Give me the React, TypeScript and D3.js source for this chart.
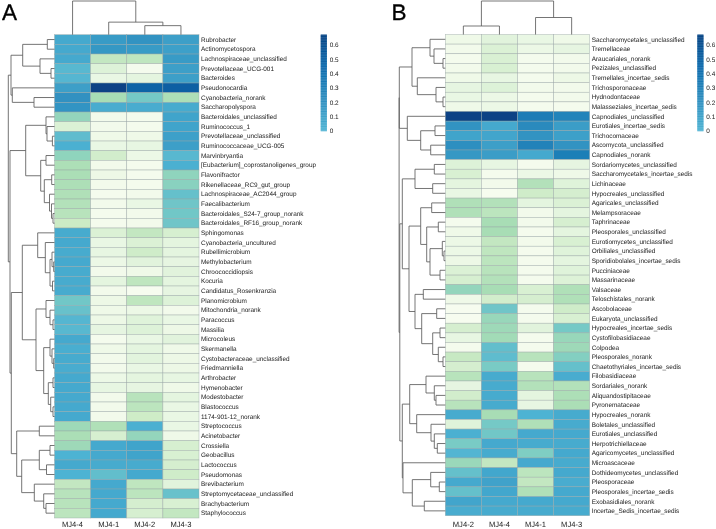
import React from "react";
import * as d3 from "d3";

const W = 716, H = 529;

// Panel A
const colsA = ["MJ4-4", "MJ4-1", "MJ4-2", "MJ4-3"];
const rowsA = ["Rubrobacter","Actinomycetospora","Lachnospiraceae_unclassified","Prevotellaceae_UCG-001","Bacteroides","Pseudonocardia","Cyanobacteria_norank","Saccharopolyspora","Bacteroidales_unclassified","Ruminococcus_1","Prevotellaceae_unclassified","Ruminococcaceae_UCG-005","Marvinbryantia","[Eubacterium]_coprostanoligenes_group","Flavonifractor","Rikenellaceae_RC9_gut_group","Lachnospiraceae_AC2044_group","Faecalibacterium","Bacteroidales_S24-7_group_norank","Bacteroidales_RF16_group_norank","Sphingomonas","Cyanobacteria_uncultured","Rubellimicrobium","Methylobacterium","Chroococcidiopsis","Kocuria","Candidatus_Rosenkranzia","Planomicrobium","Mitochondria_norank","Paracoccus","Massilia","Microcoleus","Skermanella","Cystobacteraceae_unclassified","Friedmanniella","Arthrobacter","Hymenobacter","Modestobacter","Blastococcus","1174-901-12_norank","Streptococcus","Acinetobacter","Crossiella","Geobacillus","Lactococcus","Pseudomonas","Brevibacterium","Streptomycetaceae_unclassified","Brachybacterium","Staphylococcus"];
const valuesA = [
[.06,.14,.19,.12],[.06,.16,.14,.11],[.06,-.62,-.6,.14],[-.05,-.88,-1.1,.12],[-.03,-1,-.95,.12],
[.12,.66,.48,.5],[.2,-.45,-.2,-.48],[.18,.04,.04,.05],[-.35,-1.08,-1.1,.09],[-.85,-1.08,-1.1,.09],
[-.08,-1.05,-1.05,.11],[.02,-1,-.98,.12],[-.33,-.75,-1.02,-.05],[-.48,-1.08,-1.1,.02],[-.47,-1.03,-1.1,-.33],
[-.48,-1.08,-1.1,-.3],[-.5,-1.1,-1.08,-.12],[-.52,-1.08,-1,-.17],[-.55,-1.1,-1.08,-.18],[-.68,-1.1,-1.08,-.17],
[.05,-.85,-.62,-.8],[.06,-1,-.85,-.95],[.05,-.98,-.72,-.95],[.06,-1.02,-.92,-.97],[.05,-1.08,-1.05,-.92],
[.05,-.95,-.6,-.95],[.05,-1.08,-1.12,-.97],[-.18,-1.03,-.6,-.88],[-.13,-1.05,-1.02,-1.08],[-.03,-1.03,-.9,-1],
[-.05,-.97,-.88,-1.03],[.06,-1.1,-1,-.92],[.03,-1.05,-.95,-1.05],[.05,-1.08,-.93,-1.03],[.04,-1.08,-1,-1.03],
[.06,-1.02,-.95,-.98],[.06,-.98,-.97,-1.05],[.06,-1.08,-.55,-.95],[.06,-1.08,-.58,-1],[.06,-1.08,-.7,-1],
[-.4,-.5,.02,-1],[-.47,-.8,-.35,-1.05],[-.4,.06,.09,-.8],[0,.06,.09,-.82],[.06,.05,.05,-.78],
[0,-.1,.06,-.72],[-.62,.06,-.6,-.92],[-.55,.06,-.58,-.13],[-.55,.06,-.78,-.82],[-.58,.06,-.8,-.62],
];

// Panel B
const colsB = ["MJ4-2", "MJ4-4", "MJ4-1", "MJ4-3"];
const rowsB = ["Saccharomycetales_unclassified","Tremellaceae","Araucariales_norank","Pezizales_unclassified","Tremellales_incertae_sedis","Trichosporonaceae","Hydnodontaceae","Malasseziales_incertae_sedis","Capnodiales_unclassified","Eurotiales_incertae_sedis","Trichocomaceae","Ascomycota_unclassified","Capnodiales_norank","Sordariomycetes_unclassified","Saccharomycetales_incertae_sedis","Lichinaceae","Hypocreales_unclassified","Agaricales_unclassified","Melampsoraceae","Taphrinaceae","Pleosporales_unclassified","Eurotiomycetes_unclassified","Orbiliales_unclassified","Sporidiobolales_incertae_sedis","Pucciniaceae","Massarinaceae","Valsaceae","Teloschistales_norank","Ascobolaceae","Eukaryota_unclassified","Hypocreales_incertae_sedis","Cystofilobasidiaceae","Colpodea","Pleosporales_norank","Chaetothyriales_incertae_sedis","Filobasidiaceae","Sordariales_norank","Aliquandostipitaceae","Pyronemataceae","Hypocreales_norank","Boletales_unclassified","Eurotiales_unclassified","Herpotrichiellaceae","Agaricomycetes_unclassified","Microascaceae","Dothideomycetes_unclassified","Pleosporaceae","Pleosporales_incertae_sedis","Exobasidiales_norank","Incertae_Sedis_incertae_sedis"];
const valuesB = [
[-1.05,-.92,-1,-1.05],[-1.08,-.85,-1.02,-.97],[-1.1,-.83,-1.1,-1.08],[-1.08,-.82,-1.1,-1.08],[-1.05,-.98,-1.1,-1.03],
[-.97,-.88,-1.08,-1.08],[-1,-1.02,-1.1,-1.08],[-1.05,-1.02,-1.1,-1.1],[.66,.66,.33,.28],[.19,.06,.24,.13],
[.09,.08,.19,.11],[.21,.12,.29,.19],[.16,.13,.06,.31],[-.88,-.98,-1.1,-.97],[-.82,-1.1,-1.02,-1.05],
[-.95,-1.08,-.52,-.9],[-1,-1.12,-.72,-.78],[-.5,-.52,-.95,-.85],[-.5,-.58,-1.08,-.95],[-1.1,-.45,-1.08,-.8],
[-1.05,-.45,-1.1,-.95],[-1.02,-.62,-1.08,-.82],[-1.02,-.6,-1.1,-.9],[-1.03,-.58,-1.1,-.95],[-.85,-.55,-1.1,-.9],
[-.8,-.52,-1.1,-.87],[-.35,-.45,-.82,-.5],[-1.05,-.75,-.78,-.5],[-1.12,-.17,-1.1,-.72],[-1.12,-.37,-1.1,-.82],
[-.78,-.4,-.92,-.2],[-.98,-.42,-1.1,-.37],[-1.1,-.1,-1.1,-.4],[-.65,-.08,-.55,-.27],[-.78,-.22,-1.1,-.12],
[-.55,.05,-.55,.04],[-.97,.05,-.52,-.52],[-.75,.05,-.95,-.48],[-.55,.05,-.98,-.47],[.05,-.45,0,.05],
[-.9,-.2,-.5,.05],[.02,-.18,.06,.06],[-.22,.06,.05,.05],[-.02,.05,-.25,.06],[-.38,-.62,.06,.05],
[-.12,.07,-.58,.06],[.06,.1,-.62,.04],[-.12,.07,-.5,.06],[.08,.06,.06,.06],[.04,.05,.05,.05],
];

// Dendrograms: a node is [merge height, left, right], a leaf is its row or column index.
type Tree = number | [number, Tree, Tree];
const rowTreeA: Tree = [46.2,
  [43.5,
    [31.8, [7.2,0,1], [14.5,2,[3.5,3,4]]],
    [42.2, 5, [20.5,6,7]]],
  [44.5,
    [28.8,
      [8.5, 8, [7.5, 9, [2.1,10,11]]],
      [13.8, [8.5,12,13], [10.2, [2.8,14,15], [5,16,[3,17,[1.5,18,19]]]]]],
    [43.2,
      [32.2,
        [16.8, 20, [9.2, 21, [4.5, [2.5,22,[.8,23,24]], [2,25,26]]]],
        [18.5,
          [8.5, 27, [4.5, 28, [1.5,29,30]]],
          [10.8,
            [4.5, 31, [2.5, 32, [.8,33,34]]],
            [6.2, [1.5,35,36], [3.8, 37, [1.5,38,39]]]]]],
      [37.8,
        [15.2,40,41],
        [32.8,
          [15.2, [4.5,42,43], [8,44,45]],
          [20.2, 46, [10.8, 47, [8.5,48,49]]]]]]]];
const rowTreeB: Tree = [46.2,
  [46,
    [33.3,
      [15.3, 0, [11.3, 1, [2.3,2,3]]],
      [28, 4, [9.3, 5, [2.3,6,7]]]],
    [38, 8, [24.6, [10.3,9,10], [14.6,11,12]]]],
  [45.5,
    [43,
      [30.3, [11,13,14], [12.6,15,16]],
      [36.3,
        [24.6,
          [13.6,17,18],
          [18.6, [7,19,20], [15.3, [3,21,[1.3,22,23]], [5.3,24,25]]]],
        [30.3,
          [22,26,27],
          [23.6, [8.6,28,29], [12.6, [5.3,30,31], [7,32,[2.3,33,34]]]]]]],
    [43,
      [35.6,
        [19.3, 35, [11, 36, [9.3,37,38]]],
        [28.6, 39, [14.3, 40, [11, 41, [8,42,43]]]]],
      [42.3,
        44,
        [33, [14.6, 45, [6,46,47]], [21,48,49]]]]]];
const colTreeA: Tree = [33.5, 0, [12.5, 1, [9, 2, 3]]];
const colTreeB: Tree = [33.5, [8.5, 0, 1], [17, 2, 3]];

const legendTicks = [0, 0.1, 0.2, 0.3, 0.4, 0.5, 0.6];
const legendMax = 0.675;
const colorStops = [-1.13, -0.91, -0.68, -0.45, -0.23, 0, 0.23, 0.45, 0.68];
const color = d3.scaleLinear<string>().domain(colorStops).range(d3.schemeGnBu[9] as string[]).clamp(true);

const FONT = "'Liberation Sans', Arial, sans-serif";
const LINE = "#5c5c5c";

function treePath(tree: Tree, pos: (i: number) => number, dist: d3.ScaleLinear<number, number>, horizontal: boolean) {
  const p = d3.path();
  const seg = (a: number, d1: number, b: number, d2: number) => {
    if (horizontal) { p.moveTo(d1, a); p.lineTo(d2, b); }
    else { p.moveTo(a, d1); p.lineTo(b, d2); }
  };
  const walk = (t: Tree): [number, number] => {
    if (typeof t === "number") return [pos(t), 0];
    const [h, l, r] = t;
    const [ca, ha] = walk(l);
    const [cb, hb] = walk(r);
    seg(ca, dist(ha), ca, dist(h));
    seg(cb, dist(hb), cb, dist(h));
    seg(ca, dist(h), cb, dist(h));
    return [(ca + cb) / 2, h];
  };
  walk(tree);
  return p.toString();
}

function Panel(props: {
  letter: string; letterX: number; cols: string[]; rows: string[]; values: number[][];
  rowTree: Tree; colTree: Tree; x0: number; x1: number; y0: number; y1: number;
  treeX: number; legendX: number;
}) {
  const { letter, letterX, cols, rows, values, rowTree, colTree, x0, x1, y0, y1, treeX, legendX } = props;
  const xs = d3.scaleBand<number>().domain(d3.range(cols.length)).range([x0, x1]);
  const ys = d3.scaleBand<number>().domain(d3.range(rows.length)).range([y0, y1]);
  const xc = (i: number) => xs(i)! + xs.bandwidth() / 2;
  const yc = (i: number) => ys(i)! + ys.bandwidth() / 2;
  const rowDist = d3.scaleLinear().domain([0, 46.2]).range([x0, treeX]);
  const colDist = d3.scaleLinear().domain([0, 33.5]).range([y0, 1]);
  const legendY = d3.scaleLinear().domain([0, legendMax]).range([131, 34.5]);
  const legendSteps = d3.range(0, legendMax, 0.005);
  return (
    <g style={{ textRendering: "geometricPrecision" }}>
      <text x={letterX} y={20.3} fontSize={22.5} fontFamily={FONT} fill="#000" stroke="#000" strokeWidth={0.35}>{letter}</text>
      {values.map((row, r) => row.map((v, c) => (
        <rect key={r + "-" + c} x={xs(c)} y={ys(r)} width={xs.bandwidth()} height={ys.bandwidth()}
          fill={color(v)} stroke="#9aa5a5" strokeOpacity={0.75} strokeWidth={0.55} />
      )))}
      <path d={treePath(rowTree, yc, rowDist, true)} fill="none" stroke={LINE} strokeWidth={0.85} />
      <path d={treePath(colTree, xc, colDist, false)} fill="none" stroke={LINE} strokeWidth={0.85} />
      {rows.map((t, r) => (
        <text key={t} x={x1 + 2} y={yc(r)} dy="0.35em" fontSize={6.42} fontFamily={FONT} fill="#222">{t}</text>
      ))}
      {cols.map((t, c) => (
        <text key={t} x={xc(c)} y={527} textAnchor="middle" fontSize={7.6} fontFamily={FONT} fill="#222">{t}</text>
      ))}
      {legendSteps.map((v) => (
        <rect key={v} x={legendX} y={legendY(v + 0.005)} width={6.2} height={legendY(v) - legendY(v + 0.005) + 0.3} fill={color(v)} />
      ))}
      {legendTicks.map((t) => (
        <text key={t} x={legendX + 9} y={legendY(t)} dy="0.35em" fontSize={6.42} fontFamily={FONT} fill="#222">{t}</text>
      ))}
    </g>
  );
}

export default function App() {
  return (
    <svg width={W} height={H} viewBox={`0 0 ${W} ${H}`} style={{ position: "fixed", left: 0, top: 0, background: "#fff" }}>
      <defs>
        <filter id="soft" x="0" y="0" width="100%" height="100%">
          <feGaussianBlur stdDeviation={0.3} />
        </filter>
      </defs>
      <g filter="url(#soft)">
        <Panel letter="A" letterX={2} cols={colsA} rows={rowsA} values={valuesA} rowTree={rowTreeA} colTree={colTreeA}
          x0={54.5} x1={199} y0={34.7} y1={518} treeX={8.3} legendX={320.7} />
        <Panel letter="B" letterX={391.5} cols={colsB} rows={rowsB} values={valuesB} rowTree={rowTreeB} colTree={colTreeB}
          x0={445.3} x1={589.7} y0={34.5} y1={515.7} treeX={399.1} legendX={697.3} />
      </g>
    </svg>
  );
}
